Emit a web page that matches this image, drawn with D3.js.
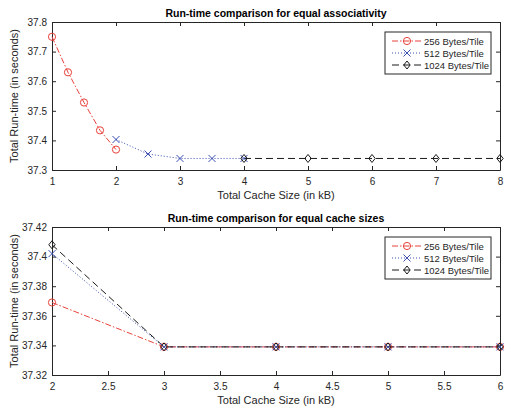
<!DOCTYPE html>
<html lang="en">
<head>
<meta charset="UTF-8">
<title>Run-time comparison</title>
<style>
    body { margin: 0; background: #fff; }
    svg text { font-family: "Liberation Sans", Arial, sans-serif; fill: #262626; }
</style>
</head>
<body>
<script src="https://d3js.org/d3.v7.min.js"></script>
<script>
    // top chart: equal associativity
    const assocX256 = [1, 1.25, 1.5, 1.75, 2];
    const assocY256 = [37.75, 37.63, 37.528, 37.434, 37.369];
    const assocX512 = [2, 2.5, 3, 3.5, 4];
    const assocY512 = [37.403, 37.354, 37.339, 37.339, 37.339];
    const assocX1024 = [4, 5, 6, 7, 8];
    const assocY1024 = [37.339, 37.339, 37.339, 37.339, 37.339];
    const assocXTicks = [1, 2, 3, 4, 5, 6, 7, 8];
    const assocYTicks = [37.3, 37.4, 37.5, 37.6, 37.7, 37.8];

    // bottom chart: equal cache sizes
    const sizeX = [2, 3, 4, 5, 6];
    const sizeY256 = [37.369, 37.339, 37.339, 37.339, 37.339];
    const sizeY512 = [37.402, 37.339, 37.339, 37.339, 37.339];
    const sizeY1024 = [37.408, 37.339, 37.339, 37.339, 37.339];
    const sizeXTicks = [2, 2.5, 3, 3.5, 4, 4.5, 5, 5.5, 6];
    const sizeYTicks = [37.32, 37.34, 37.36, 37.38, 37.4, 37.42];

    const seriesNames = ["256 Bytes/Tile", "512 Bytes/Tile", "1024 Bytes/Tile"];

    const styles = [
        {color: "#e8413a", dash: "6,2,1.5,2", marker: "circle"},
        {color: "#3b4fb0", dash: "1,2", marker: "cross"},
        {color: "#1a1a1a", dash: "7,4", marker: "diamond"}
    ];

    const svg = d3.select("body").append("svg")
        .attr("width", 505)
        .attr("height", 412);

    function drawMarker(g, type, color, px, py) {
        if (type === "circle") {
            g.append("circle").attr("cx", px).attr("cy", py).attr("r", 3.6)
                .attr("fill", "none").attr("stroke", color).attr("stroke-width", 1);
        } else if (type === "cross") {
            const s = 3.5;
            g.append("path")
                .attr("d", `M${px - s},${py - s}L${px + s},${py + s}M${px - s},${py + s}L${px + s},${py - s}`)
                .attr("stroke", color).attr("stroke-width", 1).attr("fill", "none");
        } else {
            const s = 4;
            g.append("path")
                .attr("d", `M${px},${py - s}L${px + s * 0.8},${py}L${px},${py + s}L${px - s * 0.8},${py}Z`)
                .attr("stroke", color).attr("stroke-width", 1).attr("fill", "none");
        }
    }

    function drawPanel(opts) {
        const left = 52, right = 500;
        const x = d3.scaleLinear().domain(opts.xDomain).range([left, right]);
        const y = d3.scaleLinear().domain(opts.yDomain).range([opts.bottom, opts.top]);
        const g = svg.append("g");
        const fmt = d => String(d);

        // axes with inward ticks on all four sides
        const axes = [
            [d3.axisBottom(x).tickValues(opts.xTicks).tickSize(-4).tickPadding(8), `translate(0,${opts.bottom})`, true],
            [d3.axisTop(x).tickValues(opts.xTicks).tickSize(-4), `translate(0,${opts.top})`, false],
            [d3.axisLeft(y).tickValues(opts.yTicks).tickSize(-4).tickPadding(5), `translate(${left},0)`, true],
            [d3.axisRight(y).tickValues(opts.yTicks).tickSize(-4), `translate(${right},0)`, false]
        ];
        axes.forEach(([ax, tr, labels]) => {
            const a = g.append("g").attr("transform", tr).call(ax.tickSizeOuter(0).tickFormat(fmt));
            a.select(".domain").attr("stroke", "#262626").attr("stroke-width", 1);
            a.selectAll(".tick line").attr("stroke", "#262626");
            a.selectAll("text").attr("font-size", 10).attr("fill", "#262626")
                .style("display", labels ? null : "none");
        });

        // series
        opts.series.forEach((s, i) => {
            const st = styles[i];
            const pts = s.xs.map((v, k) => [v, s.ys[k]]);
            g.append("path")
                .datum(pts)
                .attr("fill", "none")
                .attr("stroke", st.color)
                .attr("stroke-width", 1)
                .attr("stroke-dasharray", st.dash)
                .attr("d", d3.line().x(d => x(d[0])).y(d => y(d[1])));
        });
        // markers drawn after lines
        opts.series.forEach((s, i) => {
            const st = styles[i];
            s.xs.forEach((v, k) => drawMarker(g, st.marker, st.color, x(v), y(s.ys[k])));
        });

        // title and labels
        g.append("text").attr("x", (left + right) / 2).attr("y", opts.top - 5)
            .attr("text-anchor", "middle").attr("font-size", 10.5).attr("font-weight", "bold")
            .style("fill", "#000").text(opts.title);
        g.append("text").attr("x", (left + right) / 2).attr("y", opts.bottom + 29)
            .attr("text-anchor", "middle").attr("font-size", 11).text("Total Cache Size (in kB)");
        g.append("text")
            .attr("transform", `translate(18,${(opts.top + opts.bottom) / 2}) rotate(-90)`)
            .attr("text-anchor", "middle").attr("font-size", 11).text("Total Run-time (in seconds)");

        // legend
        const lg = g.append("g").attr("transform", `translate(385,${opts.top + 10})`);
        lg.append("rect").attr("width", 106).attr("height", 42)
            .attr("fill", "#fff").attr("stroke", "#262626").attr("stroke-width", 1);
        seriesNames.forEach((name, i) => {
            const st = styles[i];
            const ly = 9 + i * 12;
            lg.append("line").attr("x1", 7).attr("x2", 37).attr("y1", ly).attr("y2", ly)
                .attr("stroke", st.color).attr("stroke-width", 1).attr("stroke-dasharray", st.dash);
            drawMarker(lg, st.marker, st.color, 22, ly);
            lg.append("text").attr("x", 39).attr("y", ly + 3.5).attr("font-size", 9.5).text(name);
        });
    }

    drawPanel({
        title: "Run-time comparison for equal associativity",
        top: 22, bottom: 170,
        xDomain: [1, 8], yDomain: [37.3, 37.8],
        xTicks: assocXTicks, yTicks: assocYTicks,
        series: [
            {xs: assocX256, ys: assocY256},
            {xs: assocX512, ys: assocY512},
            {xs: assocX1024, ys: assocY1024}
        ]
    });

    drawPanel({
        title: "Run-time comparison for equal cache sizes",
        top: 227, bottom: 375,
        xDomain: [2, 6], yDomain: [37.32, 37.42],
        xTicks: sizeXTicks, yTicks: sizeYTicks,
        series: [
            {xs: sizeX, ys: sizeY256},
            {xs: sizeX, ys: sizeY512},
            {xs: sizeX, ys: sizeY1024}
        ]
    });
</script>
</body>
</html>
